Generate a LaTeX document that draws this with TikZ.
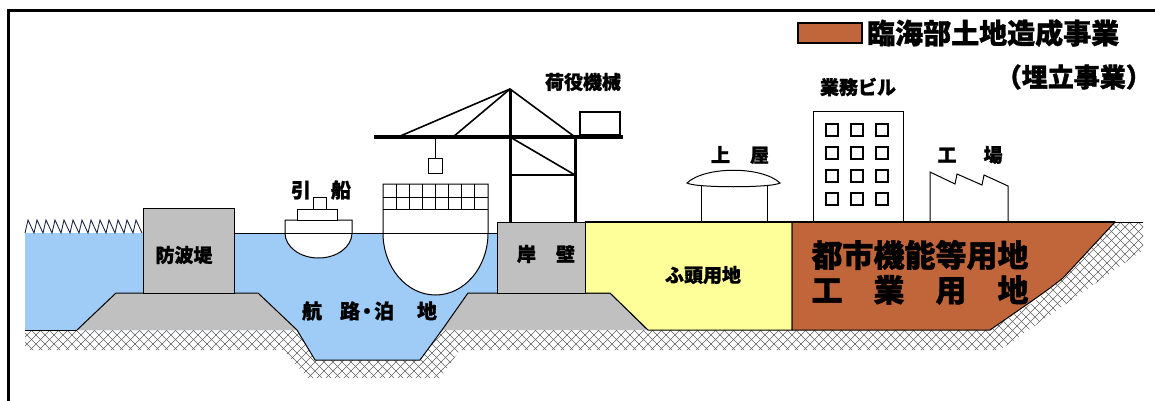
\documentclass[tikz,border=0pt]{standalone}
\usepackage{fontspec}
\newfontfamily\jp{Noto Sans CJK JP}[BoldFeatures={FakeBold=1.2}]
\newcommand\jpsize[1]{\fontsize{#1}{#1}\selectfont}

\definecolor{sea}{RGB}{158,204,246}
\definecolor{stone}{RGB}{192,192,192}
\definecolor{wharf}{RGB}{255,255,153}
\definecolor{reclaim}{RGB}{193,101,58}
\definecolor{hatchgray}{RGB}{95,95,95}
\definecolor{wavecol}{RGB}{30,40,70}

\tikzset{
  edge/.style={draw=black, line width=1pt},
  lbl/.style={inner sep=0pt, text=black},
  lbl19/.style={lbl, font=\jp\bfseries\jpsize{19}},
  steelbar/.style={draw=black, line width=3pt},
  cable/.style={draw=black, line width=1.6pt},
}

\begin{document}
\begin{tikzpicture}[x=1pt,y=-1pt]
\useasboundingbox (0,0) rectangle (1155,401);

% frame
\draw[line width=3pt] (8,401) -- (8,11) -- (1155,11);

% hatched sea bed / ground band
\begin{scope}
  \clip (25,330) -- (297,330) -- (315,360) -- (420,360) -- (442,330) -- (990,330)
        -- (1037,300) -- (1063,278) -- (1115,222) -- (1143,222) -- (1143,250)
        -- (1000,350) -- (460,350) -- (440,378) -- (308,378) -- (283,350) -- (25,350) -- cycle;
  \foreach \k in {-400,-391,...,1400}
    \draw[hatchgray, line width=0.6pt] (\k,420) -- ++(260,-260);
  \foreach \k in {-400,-391,...,1400}
    \draw[hatchgray, line width=0.6pt] (\k,160) -- ++(260,260);
\end{scope}

% water
\fill[sea] (25,233) -- (497,233) -- (497,293) -- (468,293) -- (442,330) -- (420,360)
  -- (315,360) -- (297,330) -- (25,330) -- cycle;

% waves
\draw[wavecol, line width=0.9pt] (25,233) \foreach \i in {0,...,12} { -- ++(3,-13) -- ++(6,13) };
% water surface
\draw[line width=1pt] (234,233) -- (497,233);

% breakwater mound and caisson
\draw[edge, fill=stone] (77,330) -- (116,293) -- (258,293) -- (297,330);
\draw[edge, fill=stone] (143,208) rectangle (234,293);
\node[lbl19] (bw) at (184,255) {防波堤};

% quay mound
\draw[edge, fill=stone] (442,330) -- (468,293) -- (610,293) -- (648,330);

% wharf land
\draw[edge, fill=wharf] (585,222) -- (792,222) -- (792,330) -- (648,330) -- (610,293) -- (585,293) -- cycle;
\node[lbl19] (wl) at (703,275) {ふ頭用地};

% quay wall
\draw[edge, fill=stone] (497,222) rectangle (585,293);
\node[lbl19] (qw) at (546,254) {岸\hspace{20pt}壁};

% reclaimed land
\draw[edge, fill=reclaim] (792,222) -- (1115,222) -- (1063,278)
  .. controls (1045,292) .. (990,330) -- (792,330) -- cycle;
\draw[edge] (1115,222) -- (1143,222);
\node[lbl, font=\jp\bfseries\jpsize{31}] (use1) at (920,255) {都市機能等用地};
\node[lbl, font=\jp\bfseries\jpsize{31}] (use2) at (920,290) {工\hspace{31pt}業\hspace{31pt}用\hspace{31pt}地};

% sea bed line
\draw[edge] (25,330) -- (77,330);
\draw[edge] (297,330) -- (315,360) -- (420,360) -- (442,330);
\node[lbl, font=\jp\bfseries\jpsize{20}] (ch) at (369.5,311)
  {航\hspace{18pt}路\hspace{-3pt}・\hspace{-3pt}泊\hspace{23pt}地};

% tug boat
\draw[edge, fill=white] (285,220) -- (352,220) -- (352,233)
  .. controls (352,246.8) and (337,258) .. (318.5,258)
  .. controls (300,258) and (285,246.8) .. (285,233) -- cycle;
\draw[edge] (285,233) -- (352,233);
\draw[edge, fill=white] (297,209) rectangle (337,220);
\draw[edge, fill=white] (313,197) rectangle (326,209);
\node[lbl, font=\jp\bfseries\jpsize{20}] (tug) at (321,190) {引　船};

% container ship
\draw[edge, fill=white] (383,184) -- (488,184) -- (488,233)
  .. controls (488,267.2) and (464.5,295) .. (435.5,295)
  .. controls (406.5,295) and (383,267.2) .. (383,233) -- cycle;
\draw[edge] (383,197) -- (488,197);
\draw[edge] (383,209) -- (488,209);
\draw[edge] (383,233) -- (488,233);
\foreach \i in {1,...,7}
  \draw[edge] ({383+13.125*\i},184) -- ({383+13.125*\i},209);

% container crane
\draw[steelbar] (510,89) -- (510,222);
\draw[steelbar] (575,137) -- (575,222);
\draw[cable] (398,137) -- (510,89) -- (575,137);
\draw[cable] (453,137) -- (510,89);
\draw[cable] (510,137) -- (575,175);
\draw[cable] (510,175) -- (575,175);
\draw[black, line width=4.5pt] (374,137) -- (623,137);
\draw[edge, line width=1.3pt, fill=white] (580,112) rectangle (620,135);
\draw[edge] (435,137) -- (435,158);
\draw[edge, fill=white] (428,158) rectangle (442,173);
\node[lbl19] (crane) at (583,82) {荷役機械};

% shed
\draw[edge] (701,185) -- (701,222);
\draw[edge] (767,185) -- (767,222);
\draw[edge, fill=white] (687,183) .. controls (705,166) and (762,166) .. (780,183)
  .. controls (772,188) and (695,188) .. (687,183) -- cycle;
\node[lbl, font=\jp\bfseries\jpsize{19}] (shed) at (740,155) {上\hspace{20pt}屋};

% office building
\draw[edge, fill=white] (813,112) rectangle (903,222);
\foreach \cx in {832,857,882}
  \foreach \cy in {130,153,176,199}
    \draw[edge, line width=1.2pt] (\cx-6,\cy-6) rectangle (\cx+6,\cy+6);
\node[lbl, font=\jp\bfseries\jpsize{19}] (office) at (858,87) {業務ビル};

% factory
\draw[edge] (930,222) -- (930,172) -- (955,184) -- (957,174) -- (982,185)
  -- (984,175) -- (1008,186) -- (1008,222);
\node[lbl19] (factory) at (970,155) {工\hspace{27pt}場};

% ground line on top of the land blocks
\draw[edge, line width=1.3pt] (585,222) -- (1115,222);

% legend
\draw[line width=1.6pt, fill=reclaim] (798,23) rectangle (862,43);
\node[lbl, font=\jp\bfseries\jpsize{28}, anchor=west] (legend) at (867,33) {臨海部土地造成事業};
\node[lbl, font=\jp\bfseries\jpsize{26}, anchor=east] (legend2) at (1152,77) {（埋立事業）};
\end{tikzpicture}
\end{document}
